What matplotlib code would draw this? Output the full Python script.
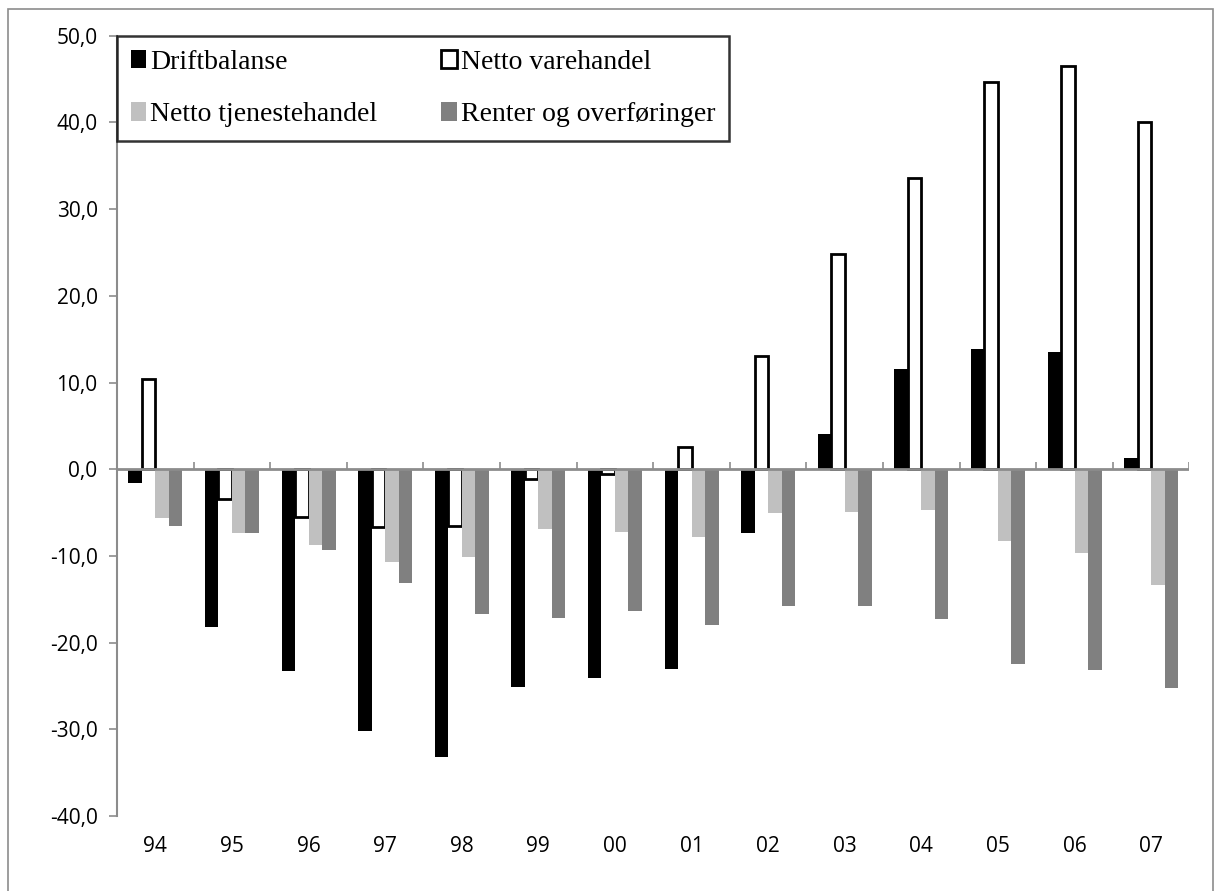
import matplotlib.pyplot as plt
import numpy as np

# Data (mrd. kr)
aar = ['94', '95', '96', '97', '98', '99', '00', '01', '02', '03', '04', '05', '06', '07']
driftbalanse = [-1.6, -18.2, -23.3, -30.2, -33.2, -25.1, -24.1, -23.0, -7.4, 4.1, 11.6, 13.9, 13.5, 1.3]
varehandel = [10.4, -3.4, -5.5, -6.7, -6.5, -1.1, -0.6, 2.6, 13.1, 24.8, 33.6, 44.7, 46.5, 40.0]
tjenestehandel = [-5.6, -7.4, -8.7, -10.7, -10.1, -6.9, -7.2, -7.8, -5.0, -4.9, -4.7, -8.3, -9.7, -13.3]
renter = [-6.6, -7.4, -9.3, -13.1, -16.7, -17.2, -16.3, -18.0, -15.8, -15.8, -17.3, -22.4, -23.1, -25.2]
yticks = np.arange(-40, 51, 10)

fig = plt.figure(figsize=(12.14, 8.91), dpi=100)
ax = fig.add_axes([0.0964, 0.084, 0.8834, 0.876])

# grå ramme rundt hele figuren
fig.patches.append(plt.Rectangle((0.007, -0.01), 0.992, 1.0, transform=fig.transFigure,
                                 fill=False, edgecolor='#8c8c8c', linewidth=1.2))

x = np.arange(len(aar))
w = 0.176
b1 = ax.bar(x - 1.5 * w, driftbalanse, w, color='black', label='Driftbalanse')
b2 = ax.bar(x - 0.5 * w, varehandel, w, facecolor='white', edgecolor='black', linewidth=2, label='Netto varehandel')
b3 = ax.bar(x + 0.5 * w, tjenestehandel, w, color='#c0c0c0', label='Netto tjenestehandel')
b4 = ax.bar(x + 1.5 * w, renter, w, color='#808080', label='Renter og overføringer')

ax.set_xlim(-0.5, len(aar) - 0.5)
ax.set_ylim(-40, 50)
ax.set_yticks(yticks)
ax.set_yticklabels([f'{v:.1f}'.replace('.', ',') for v in yticks], fontsize=15, family='Open Sans')
ax.set_xticks(x)
ax.set_xticklabels(aar, fontsize=15, family='Open Sans')
ax.tick_params(axis='x', length=0, pad=14)
ax.tick_params(axis='y', direction='out', length=6, color='#8c8c8c', width=1.2, pad=8)

for s in ['top', 'right', 'bottom']:
    ax.spines[s].set_visible(False)
ax.spines['left'].set_color('#8c8c8c')
ax.spines['left'].set_linewidth(1.5)

# nullinje med kategoriskiller
ax.axhline(0, color='#8c8c8c', linewidth=2, zorder=3)
ax.vlines(np.arange(len(aar) + 1) - 0.5, 0, 0.8, color='#8c8c8c', linewidth=1.2, zorder=3)

# radvis rekkefølge i forklaringen
leg = ax.legend([b1, b3, b2, b4],
                ['Driftbalanse', 'Netto tjenestehandel', 'Netto varehandel', 'Renter og overføringer'],
                ncol=2, loc='upper left', bbox_to_anchor=(0.0, 1.0), frameon=True, fancybox=False,
                prop={'family': 'Liberation Serif', 'size': 20}, handlelength=0.55, handleheight=0.65,
                handletextpad=0.15, columnspacing=2.3, borderpad=0.5, labelspacing=1.0, borderaxespad=0)
leg.get_frame().set_edgecolor('black')
leg.get_frame().set_linewidth(1.8)

fig.savefig('out.png', dpi=100)
